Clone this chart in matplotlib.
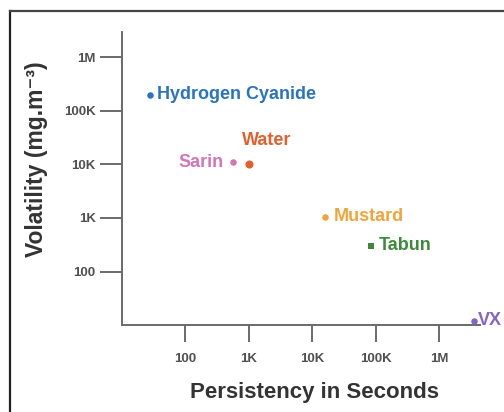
import matplotlib.pyplot as plt
from matplotlib.lines import Line2D

# --- data ---
agents = ["Hydrogen Cyanide", "Sarin", "Water", "Mustard", "Tabun", "VX"]
persistence = [28, 560, 1000, 16000, 83000, 3.5e6]
volatility = [2.0e5, 1.1e4, 1.0e4, 1.05e3, 300, 12]
colors = ["#2a73c0", "#d276b8", "#e2602e", "#f2a43a", "#3f8a3a", "#8466c2"]
markers = ["o", "o", "o", "o", "s", "o"]
sizes = [22, 22, 34, 22, 22, 22]
# label placement (offset in points, horizontal alignment)
offsets = [(5, 0, "left"), (-7, 0, "right"), (13, 17, "center"),
           (6, 0, "left"), (6, 0, "left"), (3, 0, "left")]

xticks = [100, 1e3, 1e4, 1e5, 1e6]
xtick_labels = ["100", "1K", "10K", "100K", "1M"]
yticks = [100, 1e3, 1e4, 1e5, 1e6]
ytick_labels = ["100", "1K", "10K", "100K", "1M"]

plt.rcParams["font.family"] = ["Liberation Sans", "DejaVu Sans"]

fig = plt.figure(figsize=(5.04, 4.12), dpi=100)
ax = fig.add_axes([0.242, 0.211, 0.71, 0.711])

for name, x, y, c, m, s, (dx, dy, ha) in zip(agents, persistence, volatility,
                                              colors, markers, sizes, offsets):
    ax.scatter(x, y, s=s, color=c, marker=m, zorder=3, clip_on=False,
               linewidths=0)
    ax.annotate(name, (x, y), xytext=(dx, dy), textcoords="offset points",
                ha=ha, va="center", color=c, fontsize=13, fontweight="bold",
                annotation_clip=False)

ax.set_xscale("log")
ax.set_yscale("log")
ax.set_xlim(10, 10 ** 6.64)
ax.set_ylim(10, 10 ** 6.47)
ax.set_xticks(xticks)
ax.set_xticklabels(xtick_labels)
ax.set_yticks(yticks)
ax.set_yticklabels(ytick_labels)
ax.minorticks_off()

for side in ["top", "right"]:
    ax.spines[side].set_visible(False)
for side in ["left", "bottom"]:
    ax.spines[side].set_color("#6a6a6a")
    ax.spines[side].set_linewidth(1.4)

ax.tick_params(axis="x", direction="out", length=12, width=1.4,
               color="#6a6a6a", pad=8, labelsize=9.5, labelcolor="#505050")
ax.tick_params(axis="y", direction="out", length=16, width=1.4,
               color="#6a6a6a", pad=3, labelsize=9.5, labelcolor="#505050")
for lab in ax.get_xticklabels() + ax.get_yticklabels():
    lab.set_fontweight("bold")

ax.set_xlabel("Persistency in Seconds", fontsize=16, fontweight="bold",
              color="#333333", va="top")
ax.set_ylabel("Volatility (mg.m\u207b\u00b3)", fontsize=16.5,
              fontweight="bold", color="#333333")
ax.xaxis.set_label_coords(0.539, -0.195)
ax.yaxis.set_label_coords(-0.207, 0.565)

# outer frame (left and top edges only, as in the reference)
fig.add_artist(Line2D([10 / 504, 10 / 504], [0, 1 - 11 / 412],
                      transform=fig.transFigure, color="#222222", lw=1.6))
fig.add_artist(Line2D([10 / 504, 1], [1 - 11 / 412, 1 - 11 / 412],
                      transform=fig.transFigure, color="#444444", lw=1.6))

fig.savefig("out.png", dpi=100)
